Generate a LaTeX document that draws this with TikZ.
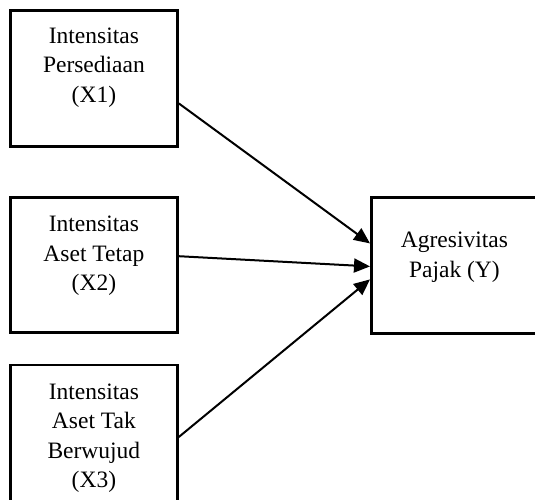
\documentclass[tikz,border=0pt]{standalone}
\usepackage{fontspec}
\setmainfont{Liberation Serif}
\usetikzlibrary{arrows.meta,positioning}

\begin{document}
\begin{tikzpicture}[>={Triangle[length=8pt,width=7pt]},
    box/.style={draw,line width=1.4pt,minimum width=83.5pt,minimum height=68pt,inner sep=0pt},
    lbl/.style={align=center,font=\fontsize{11.75}{14.75}\selectfont},
    link/.style={->,line width=1pt}]
  \useasboundingbox (0,0) rectangle (267.5pt,-249.5pt);
  % independent variables
  \node[box,anchor=north west] (x1) at (4.5pt,-4.5pt) {};
  \node[box,minimum height=67.5pt,below=24pt of x1] (x2) {};
  \node[box,minimum height=72pt,below=15pt of x2] (x3) {};
  \node[lbl,yshift=5.5pt] (t1) at (x1) {Intensitas\\Persediaan\\(X1)};
  \node[lbl,yshift=4.25pt] (t2) at (x2) {Intensitas\\Aset Tetap\\(X2)};
  \node[lbl,yshift=-0.5pt] (t3) at (x3) {Intensitas\\Aset Tak\\Berwujud\\(X3)};
  % dependent variable
  \node[box,minimum width=87.5pt,anchor=north west] (y) at (185pt,-98pt) {};
  \node[lbl,xshift=-2.25pt,yshift=4pt] (ty) at (y) {Agresivitas\\Pajak (Y)};
  % paths
  \draw[link] ([yshift=-12.5pt]x1.east) -- ([yshift=11pt]y.west);
  \draw[link] ([yshift=4.25pt]x2.east) -- ([yshift=-0.5pt]y.west);
  \draw[link] (x3.east) -- ([yshift=-7pt]y.west);
\end{tikzpicture}
\end{document}
